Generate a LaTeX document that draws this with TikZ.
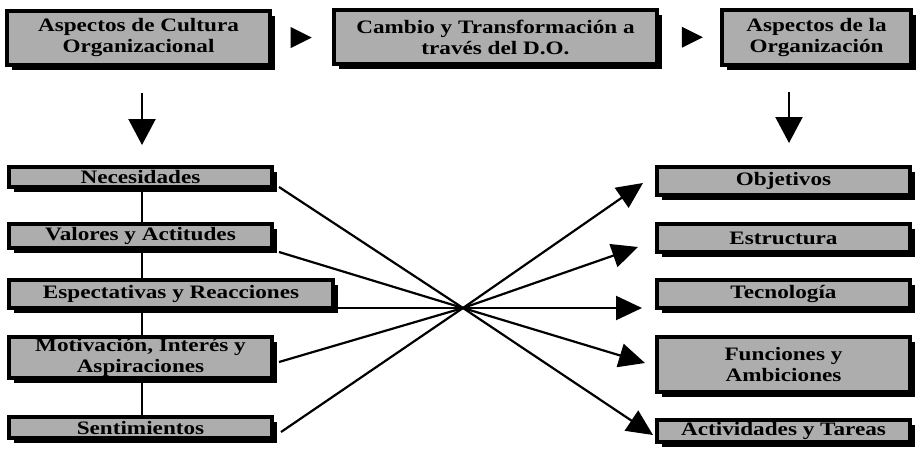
\documentclass[tikz,border=0pt]{standalone}
\usepackage{fontspec}
\setmainfont{Liberation Serif}[FakeStretch=1.22]
\usetikzlibrary{arrows.meta,shapes.geometric,shadows,backgrounds}
\definecolor{boxgray}{gray}{0.68}
\begin{document}
\begin{tikzpicture}[x=1pt,y=-1pt,
  box/.style={draw=black, line width=4pt, fill=boxgray, inner sep=0pt,
    align=center, font=\bfseries\fontsize{19}{21}\selectfont,
    drop shadow={shadow xshift=5pt, shadow yshift=-5pt, opacity=1, fill=black}},
  tri/.style={isosceles triangle, isosceles triangle stretches, fill=black,
    inner sep=0pt, minimum width=21pt, minimum height=21pt},
  conn/.style={line width=2pt},
  ray/.style={line width=2.2pt, -{Triangle[length=26pt,width=24pt]}},
  down/.style={line width=2.2pt, -{Triangle[length=26pt,width=27pt]}}
]
\useasboundingbox (0,0) rectangle (918,452);

% top row
\node[box, minimum width=263pt, minimum height=54pt] (A) at (138.5,38)
  {Aspectos de Cultura\\Organizacional};
\node[box, minimum width=323pt, minimum height=54pt] (B) at (495.5,37)
  {Cambio y Transformación a\\través del D.O.};
\node[box, minimum width=189pt, minimum height=55pt] (C) at (816.5,37.5)
  {Aspectos de la\\Organización};

\path (A.east) -- node[tri, pos=0.42] (t1) {} (B.west);
\path (B.east) -- node[tri, pos=0.48] (t2) {} (C.west);

% left column
\node[box, minimum width=263pt, minimum height=20pt] (nec) at (140.5,177) {Necesidades};
\node[box, minimum width=263pt, minimum height=24pt] (val) at (140.5,236) {Valores y Actitudes};
\node[box, minimum width=324pt, minimum height=28pt] (esp) at (171,294) {Espectativas y Reacciones};
\node[box, minimum width=263pt, minimum height=41pt] (mot) at (140.5,357.5) {Motivación, Interés y\\Aspiraciones};
\node[box, minimum width=263pt, minimum height=21pt] (sen) at (140.5,427.5) {Sentimientos};

% right column
\node[box, minimum width=253pt, minimum height=28pt] (obj) at (783.5,181) {Objetivos};
\node[box, minimum width=253pt, minimum height=28pt] (est) at (783.5,238) {Estructura};
\node[box, minimum width=253pt, minimum height=28pt] (tec) at (783.5,294) {Tecnología};
\node[box, minimum width=253pt, minimum height=55pt] (fun) at (783.5,364.5) {Funciones y\\Ambiciones};
\node[box, minimum width=253pt, minimum height=22pt] (act) at (783.5,431) {Actividades y Tareas};

% spine joining the left boxes
\begin{scope}[on background layer]
  \draw[conn] ([xshift=1.5pt]nec.south) -- ([xshift=1.5pt]nec.south |- sen.north);
\end{scope}

% down arrows under the top boxes
\draw[down] ([xshift=3.5pt,yshift=-26pt]A.south) -- ([xshift=1.5pt,yshift=20pt]nec.north);
\draw[down] ([xshift=-27.5pt,yshift=-25pt]C.south) -- ([xshift=5.5pt,yshift=22pt]obj.north);

% crossing rays
\coordinate (X) at (463,308);
\draw[ray] ([xshift=5pt,yshift=-10pt]nec.east) -- (X) -- ([xshift=-2pt,yshift=-4pt]act.west);
\draw[ray] ([xshift=5pt,yshift=-16pt]val.east) -- (X) -- ([xshift=-10pt,yshift=1.5pt]fun.west);
\draw[ray] ([yshift=-14pt]esp.east) -- (X) -- ([xshift=-13pt,yshift=-14pt]tec.west);
\draw[ray] ([xshift=5pt,yshift=-4.5pt]mot.east) -- (X) -- ([xshift=-17pt,yshift=-9pt]est.west);
\draw[ray] ([xshift=7pt,yshift=-4.5pt]sen.east) -- (X) -- ([xshift=-12pt,yshift=-2pt]obj.west);
\end{tikzpicture}
\end{document}
